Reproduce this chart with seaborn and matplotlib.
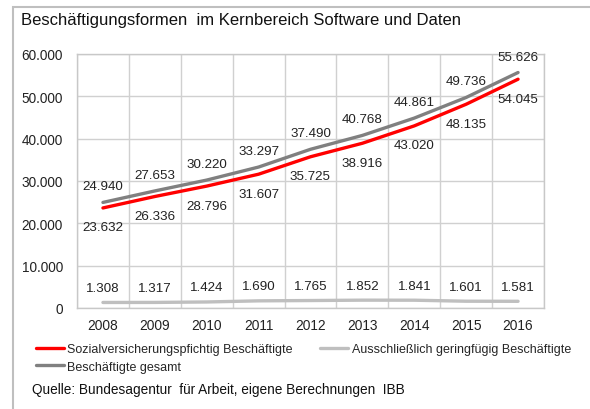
import pandas as pd
import matplotlib
matplotlib.use("Agg")
import matplotlib.pyplot as plt
from matplotlib.patches import Rectangle
import seaborn as sns

# ----------------------------
# Data
# ----------------------------
years = ["2008", "2009", "2010", "2011", "2012", "2013", "2014", "2015", "2016"]
svb = [23632, 26336, 28796, 31607, 35725, 38916, 43020, 48135, 54045]
geringfuegig = [1308, 1317, 1424, 1690, 1765, 1852, 1841, 1601, 1581]
gesamt = [24940, 27653, 30220, 33297, 37490, 40768, 44861, 49736, 55626]

names = ["Sozialversicherungspfichtig Beschäftigte",
         "Ausschließlich geringfügig Beschäftigte",
         "Beschäftigte gesamt"]
colors = ["#FF0000", "#BFBFBF", "#808080"]

df = pd.DataFrame({"Jahr": years, names[0]: svb, names[1]: geringfuegig, names[2]: gesamt})
long = df.melt(id_vars="Jahr", var_name="Serie", value_name="Wert")

sns.set_style("white")
plt.rcParams['font.family'] = ['Liberation Sans', 'DejaVu Sans']

fig = plt.figure(figsize=(5.9, 4.1), dpi=100)
ax = fig.add_axes([77 / 590, 1 - 309 / 410, (544 - 77) / 590, (309 - 55) / 410])

sns.lineplot(data=long, x="Jahr", y="Wert", hue="Serie", hue_order=names,
             palette=colors, linewidth=2.4, ax=ax, legend=True)

# data labels
def fmt(v):
    return f"{v:,}".replace(",", ".")

offsets = {names[0]: -14, names[1]: 10.5, names[2]: 11.5}
for name, vals in zip(names, [svb, geringfuegig, gesamt]):
    for i, v in enumerate(vals):
        ax.annotate(fmt(v), (i, v), xytext=(0, offsets[name]), textcoords="offset points",
                    ha="center", va="center", fontsize=9.6, color="#222222")

ax.set_xlim(-0.5, len(years) - 0.5)
ax.set_ylim(0, 60000)
ax.set_yticks(range(0, 60001, 10000))
ax.set_yticklabels([fmt(v) for v in range(0, 60001, 10000)])
ax.set_xticks(range(len(years)))
ax.set_xticklabels(years)
ax.set_xticks([i - 0.5 for i in range(len(years) + 1)], minor=True)
ax.grid(True, axis="y", which="major", color="#D0D0D0", linewidth=1)
ax.grid(True, axis="x", which="minor", color="#D0D0D0", linewidth=1)
ax.tick_params(axis="both", which="both", length=0)
ax.tick_params(axis="y", labelsize=9.8, pad=10, colors="#222222")
ax.tick_params(axis="x", labelsize=9.9, pad=7, colors="#222222")
for s in ax.spines.values():
    s.set_color("#C8C8C8")
    s.set_linewidth(1)
ax.set_xlabel("")
ax.set_ylabel("")

# legend order: column-wise fill gives rows (Sozial, Ausschl.), (gesamt)
handles, labels = ax.get_legend_handles_labels()
ax.legend_.remove()
order = [0, 2, 1]
fig.legend([handles[i] for i in order], [labels[i] for i in order],
           loc="upper left", bbox_to_anchor=(31 / 590, 1 - 339 / 410),
           ncol=2, frameon=False, fontsize=9, handlelength=2.2, handletextpad=0.3,
           columnspacing=2.2, labelspacing=0.45, borderaxespad=0)

fig.text(21 / 590, 1 - 20 / 410, "Beschäftigungsformen  im Kernbereich Software und Daten",
         fontsize=12, va="center", ha="left", color="#111111")
fig.text(32 / 590, 1 - 390 / 410, "Quelle: Bundesagentur  für Arbeit, eigene Berechnungen  IBB",
         fontsize=9.8, va="center", ha="left", color="#111111")

# outer frame
fig.patches.append(Rectangle((13 / 590, -0.1), 1.2, 1 - 8 / 410 + 0.1, transform=fig.transFigure,
                             fill=False, edgecolor="#BFBFBF", linewidth=1.5))

fig.savefig("out.png", dpi=100)
